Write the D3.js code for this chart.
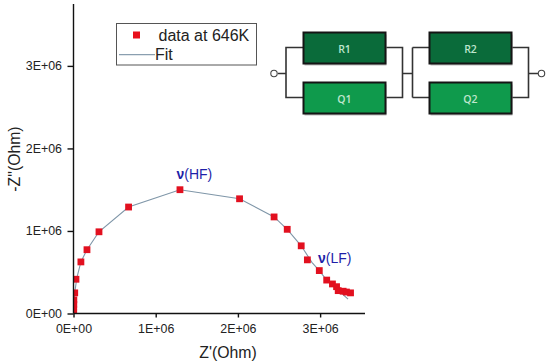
<!DOCTYPE html>
<html>
<head>
<meta charset="utf-8">
<script src="https://cdn.jsdelivr.net/npm/d3@7"></script>
<style>
html, body { margin: 0; padding: 0; background: #fff; }
svg { display: block; }
text { font-family: "Liberation Sans", Arial, sans-serif; fill: #222; }
.axis path, .axis line { stroke: #111; stroke-width: 1.4; }
.axis text { font-size: 12.4px; fill: #222; font-family: "Liberation Sans", Arial, sans-serif; }
.wire { fill: none; stroke: #333; stroke-width: 1.6; }
</style>
</head>
<body>
<svg width="550" height="364"></svg>
<script>
// measured data, Z' and -Z'' in Ohm
var zReal = [2e3, 2e3, 2e3, 3e3, 4e3, 1.5e4, 3e4, 9e4, 1.64e5, 3.1e5, 6.7e5, 1.295e6, 2.02e6, 2.44e6, 2.6e6, 2.77e6, 2.845e6, 2.99e6, 3.08e6, 3.15e6, 3.2e6, 3.22e6, 3.28e6, 3.32e6, 3.37e6];
var zImag = [1e4, 5e4, 8e4, 1.1e5, 1.65e5, 2.5e5, 4.15e5, 6.25e5, 7.73e5, 9.9e5, 1.29e6, 1.5e6, 1.39e6, 1.17e6, 1.02e6, 8.2e5, 6.5e5, 5.2e5, 4.05e5, 3.58e5, 3.25e5, 2.77e5, 2.7e5, 2.6e5, 2.5e5];
var fitReal = [0, 1.5e4, 4e4, 9e4, 1.64e5, 3.1e5, 6.7e5, 1.295e6, 2.02e6, 2.44e6, 2.6e6, 2.77e6, 2.9e6, 2.99e6, 3.08e6, 3.2e6, 3.34e6];
var fitImag = [0, 2.5e5, 4.3e5, 6.25e5, 7.73e5, 9.9e5, 1.29e6, 1.5e6, 1.39e6, 1.17e6, 1.02e6, 8.2e5, 6.2e5, 5.2e5, 4.05e5, 3e5, 1.75e5];
var xTicks = [0, 1e6, 2e6, 3e6];
var yTicks = [0, 1e6, 2e6, 3e6];
var tickLabels = ["0E+00", "1E+06", "2E+06", "3E+06"];

var svg = d3.select("svg");

var x = d3.scaleLinear().domain([0, 3.546e6]).range([73.5, 365]),
    y = d3.scaleLinear().domain([0, 3.75e6]).range([313.5, 4]);

var xAxis = d3.axisBottom(x).tickValues(xTicks).tickSize(4).tickPadding(6.6).tickFormat(function(d, i) { return tickLabels[i]; }),
    yAxis = d3.axisLeft(y).tickValues(yTicks).tickSize(6).tickPadding(5.5).tickFormat(function(d, i) { return tickLabels[i]; });

// markers are clipped at the axes, the low frequency ones sit right on x = 0
svg.append("clipPath").attr("id", "plot-clip").append("rect")
    .attr("x", x(0)).attr("y", y(3.75e6)).attr("width", x(3.546e6) - x(0)).attr("height", y(0) - y(3.75e6));

var line = d3.line().x(function(d) { return x(d[0]); }).y(function(d) { return y(d[1]); });
svg.append("path")
    .attr("d", line(d3.zip(fitReal, fitImag)))
    .attr("fill", "none").attr("stroke", "#7f96a8").attr("stroke-width", 1.1);

svg.append("g").attr("clip-path", "url(#plot-clip)").selectAll(".pt")
    .data(d3.zip(zReal, zImag))
    .enter().append("rect")
        .attr("class", "pt")
        .attr("x", function(d) { return x(d[0]) - 3.4; })
        .attr("y", function(d) { return y(d[1]) - 3.4; })
        .attr("width", 6.8)
        .attr("height", 6.8)
        .attr("fill", "#e2101f");

svg.append("g").attr("class", "axis").attr("transform", "translate(0,313.5)").call(xAxis)
    .call(function(g) { g.select(".domain").attr("d", "M73.5,0H365"); });
svg.append("g").attr("class", "axis").attr("transform", "translate(73.5,0)").call(yAxis)
    .call(function(g) { g.select(".domain").attr("d", "M0,313.5V4"); });

svg.append("text").attr("x", 228).attr("y", 358).attr("text-anchor", "middle").style("font-size", "15.8px").text("Z'(Ohm)");
svg.append("text").attr("transform", "translate(20,159) rotate(-90)").attr("text-anchor", "middle").style("font-size", "15.8px").text('-Z"(Ohm)');

function freqLabel(px, py, s) {
    var t = svg.append("text").attr("x", px).attr("y", py).style("font-size", "14px").style("fill", "#1f1fa8");
    t.append("tspan").style("font-weight", "bold").style("fill", "#1f1fa8").text("\u03bd");
    t.append("tspan").style("fill", "#1f1fa8").text(s);
}
freqLabel(176.5, 179, "(HF)");
freqLabel(318, 262.5, "(LF)");

// legend
svg.append("rect").attr("x", 116.5).attr("y", 23.5).attr("width", 140).attr("height", 41.5)
    .attr("fill", "#fff").attr("stroke", "#555").attr("stroke-width", 1);
svg.append("rect").attr("x", 133).attr("y", 31.5).attr("width", 7).attr("height", 7).attr("fill", "#e8101c");
svg.append("text").attr("x", 158.5).attr("y", 40.5).style("font-size", "16px").text("data at 646K");
svg.append("line").attr("x1", 119).attr("x2", 155).attr("y1", 54.7).attr("y2", 54.7).attr("stroke", "#8a9fb0").attr("stroke-width", 1.2);
svg.append("text").attr("x", 155).attr("y", 60).style("font-size", "16px").text("Fit");

// equivalent circuit
var elements = ["R1", "Q1", "R2", "Q2"];
var elementColors = ["#0a6b3a", "#0f9a4c", "#0a6b3a", "#0f9a4c"];
var boxX = [303.5, 303.5, 429.5, 429.5],
    boxY = [32.5, 82.5, 32.5, 82.5];

var circuit = svg.append("g");
circuit.append("path").attr("class", "wire")
    .attr("d", "M278,73.5H286V47.5H303M286,73.5V97.5H303M386,47.5H402.5V97.5H386M402.5,73.5H412.5M412.5,47.5V97.5M412.5,47.5H429M412.5,97.5H429M512,47.5H528.5V97.5H512M528.5,73.5H538");
circuit.selectAll(".shadow").data(elements).enter().append("rect")
    .attr("x", function(d, i) { return boxX[i] + 1; })
    .attr("y", function(d, i) { return boxY[i] + 2; })
    .attr("width", 82).attr("height", 31).attr("fill", "#bbb");
circuit.selectAll(".box").data(elements).enter().append("rect")
    .attr("x", function(d, i) { return boxX[i]; })
    .attr("y", function(d, i) { return boxY[i]; })
    .attr("width", 82).attr("height", 31)
    .attr("fill", function(d, i) { return elementColors[i]; })
    .attr("stroke", "#151515").attr("stroke-width", 2);
circuit.selectAll(".lbl").data(elements).enter().append("text")
    .attr("x", function(d, i) { return boxX[i] + 41; })
    .attr("y", function(d, i) { return boxY[i] + 20; })
    .attr("text-anchor", "middle")
    .style("font-family", "'Open Sans', sans-serif").style("font-size", "10.5px").style("font-weight", "600")
    .style("fill", "#bfe6cd")
    .text(function(d) { return d; });
circuit.selectAll(".node").data([274, 541.5]).enter().append("circle")
    .attr("cx", function(d) { return d; }).attr("cy", 73.5).attr("r", 3.2)
    .attr("fill", "#fff").attr("stroke", "#444").attr("stroke-width", 1.1);
</script>
</body>
</html>
